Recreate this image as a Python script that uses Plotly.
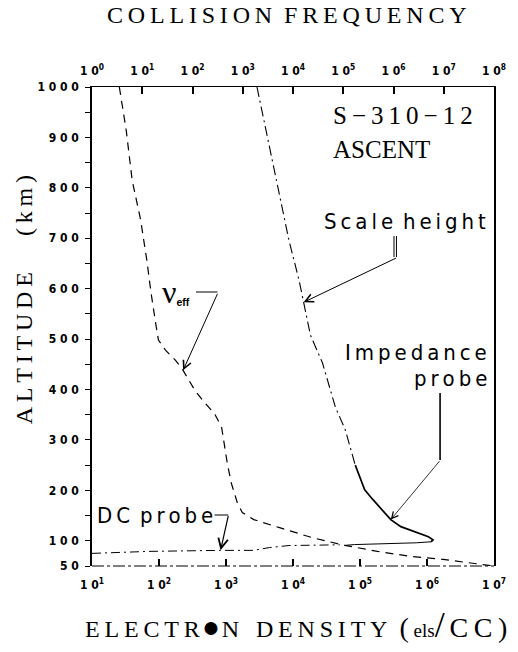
import numpy as np
import plotly.graph_objects as go

# ---------------- data ----------------
# effective collision frequency (top scale, s^-1) versus altitude (km)
nu_eff_alt = [1000, 914, 815, 736, 657, 591, 524, 498, 478, 458, 438, 398, 374,
              352, 325, 294, 255, 215, 176, 156, 142, 126, 106, 91, 79, 69, 63, 50]
nu_eff = [3.5, 4.8, 6.3, 9.3, 12.3, 15, 19, 21, 29, 46, 65, 112, 174,
          275, 380, 427, 490, 590, 776, 980, 1660, 5400, 24500, 1.07e5, 4.8e5,
          2.2e6, 9.8e6, 1.0e8]

# electron density from the scale-height extrapolation (bottom scale, els/cc)
scale_alt = [1000, 815, 696, 617, 508, 453, 366, 320, 250]
scale_ne = [2900, 5600, 8700, 12300, 18200, 27500, 42700, 60300, 85000]

# impedance probe electron density
imp_alt = [250, 201, 182, 162, 142, 128, 116, 108, 102, 98, 96, 94.5, 92.5, 91]
imp_ne = [85000, 117500, 155000, 209000, 288000, 407000, 692000, 1.05e6,
          1.23e6, 1.15e6, 6.9e5, 1.8e5, 8.3e4, 6.0e4]

# DC probe electron density
dc_alt = [75, 79, 81, 81, 86.6, 90.6, 92]
dc_ne = [10, 71, 830, 2570, 4470, 8700, 50000]

density_exp = [1, 2, 3, 4, 5, 6, 7]
freq_exp = [0, 1, 2, 3, 4, 5, 6, 7, 8]
alt_major = [50, 100, 200, 300, 400, 500, 600, 700, 800, 900, 1000]
alt_minor = [150, 250, 350, 450, 550, 650, 750, 850, 950]

# ---------------- layout helpers ----------------
L, R, T, B = 92, 502, 87, 566
W, H = 518, 652


def px(x):
    return (x - L) / (R - L)


def py(y):
    return (B - y) / (B - T)


SERIF = "Liberation Serif, Times New Roman, serif"
SANS = "Liberation Sans Narrow, DejaVu Sans Condensed, Liberation Sans, Arial, sans-serif"
TS = "\u2009"   # thin space
HS = "\u200A"   # hair space
EN = "\u2002"   # en space


def spaced(s, sep=TS):
    return sep.join(list(s))


def exp_label(e):
    return f"1 0<sup>{e}</sup>"


def span(s, size):
    return f"<span style='font-size:{size}px'>{s}</span>"


fig = go.Figure()

fig.add_trace(go.Scatter(
    x=nu_eff, y=nu_eff_alt, xaxis="x2", yaxis="y", mode="lines",
    line=dict(color="black", width=1.2, dash="8px,6px"), hoverinfo="skip"))

fig.add_trace(go.Scatter(
    x=scale_ne, y=scale_alt, mode="lines",
    line=dict(color="black", width=1.1, dash="10px,4px,2px,4px"), hoverinfo="skip"))

fig.add_trace(go.Scatter(
    x=imp_ne[:10], y=imp_alt[:10], mode="lines",
    line=dict(color="black", width=1.7), hoverinfo="skip"))
fig.add_trace(go.Scatter(
    x=imp_ne[8:], y=imp_alt[8:], mode="lines",
    line=dict(color="black", width=1.0), hoverinfo="skip"))

fig.add_trace(go.Scatter(
    x=dc_ne, y=dc_alt, mode="lines",
    line=dict(color="black", width=1.0, dash="9px,4px,2px,4px"), hoverinfo="skip"))

tickfont = dict(family=SANS, size=12, color="black", weight="bold")

fig.update_layout(
    width=W, height=H,
    margin=dict(l=L, r=W - R, t=T, b=H - B, pad=0),
    paper_bgcolor="white", plot_bgcolor="white",
    showlegend=False,
    xaxis=dict(
        type="log", range=[1, 7], showgrid=False, zeroline=False,
        showline=False, ticks="inside", ticklen=7, tickwidth=1.5,
        tickcolor="black", tickmode="array",
        tickvals=[10 ** e for e in density_exp],
        ticktext=[exp_label(e) for e in density_exp],
        tickfont=tickfont, ticklabelstandoff=10,
    ),
    xaxis2=dict(
        type="log", range=[0, 8], overlaying="x", side="top", anchor="y",
        showgrid=False, zeroline=False, showline=True, linecolor="black",
        linewidth=1.2, ticks="inside", ticklen=7, tickwidth=1.5,
        tickcolor="black", tickmode="array",
        tickvals=[10 ** e for e in freq_exp],
        ticktext=[exp_label(e) for e in freq_exp],
        tickfont=tickfont, ticklabelstandoff=6,
    ),
    yaxis=dict(
        range=[50, 1000], showgrid=False, zeroline=False, showline=True,
        linecolor="black", linewidth=1.5, mirror=True,
        ticks="outside", ticklen=5, tickwidth=1.2, tickcolor="black",
        tickmode="array", tickvals=alt_major,
        ticktext=[" ".join(str(v)) for v in alt_major],
        tickfont=tickfont, ticklabelstandoff=4,
        minor=dict(tickmode="array", tickvals=alt_minor, ticks="outside",
                   ticklen=5, tickwidth=1.2, tickcolor="black"),
    ),
)

# bottom frame line
fig.add_shape(type="line", xref="paper", yref="paper", x0=0, x1=1, y0=0, y1=0,
              line=dict(color="black", width=1, dash="12px,3px,3px,3px"))


def text(s, x, y, font, xanchor="center", angle=0):
    return dict(text=s, x=px(x), y=py(y), xref="paper", yref="paper",
                xanchor=xanchor, yanchor="middle", textangle=angle,
                showarrow=False, font=font)


serif24 = dict(family=SERIF, size=24, color="black")
curve_font = dict(family=SANS, size=22, color="black")

ann = []
# axis titles
ann.append(text(spaced("COLLISION") + EN + spaced("FREQUENCY"), 291, 15, serif24))
bottom_title = (spaced("ELECTR") + HS + span("\u25CF", 30) + HS + "N"
                + EN + TS + spaced("DENSITY") + EN
                + span("(", 28) + TS + span("els", 19) + span("/", 36) + TS
                + span("C" + TS + "C" + TS + ")", 28))
ann.append(text(bottom_title, 300, 625, serif24))
ann.append(text(spaced("ALTITUDE") + EN + "\u2003" + spaced("(km)"), 23, 300,
                serif24, angle=-90))

# flight label
ann.append(text("S" + TS + "\u2212" + TS + spaced("310") + TS + "\u2212" + TS
                + spaced("12"), 336, 116, dict(family=SERIF, size=25, color="black"),
                xanchor="left"))
ann.append(text("ASCENT", 336, 149, dict(family=SERIF, size=25, color="black"),
                xanchor="left"))

# Scale height label + pointer
ann.append(text(spaced("Scale") + EN + spaced("height"), 411, 222, curve_font))
sh_alt = 573
sh_x = np.interp(sh_alt, scale_alt[::-1], np.log10(scale_ne)[::-1])
ann.append(dict(x=sh_x, y=sh_alt, xref="x", yref="y", ax=94, ay=-45,
                showarrow=True, arrowhead=5, arrowsize=1.6, arrowwidth=1,
                arrowcolor="black", text=""))
for xx in (400, 402.5):
    fig.add_shape(type="line", xref="paper", yref="paper",
                  x0=px(xx), x1=px(xx), y0=py(236), y1=py(257),
                  line=dict(color="black", width=1))

# Impedance probe label + pointer
ann.append(text(spaced("Impedance"), 497, 352, curve_font, xanchor="right"))
ann.append(text(spaced("probe"), 497, 378, curve_font, xanchor="right"))
fig.add_shape(type="line", xref="paper", yref="paper",
              x0=px(447), x1=px(447), y0=py(393), y1=py(460),
              line=dict(color="black", width=1.6))
ann.append(dict(x=np.log10(imp_ne[4]), y=imp_alt[4], xref="x", yref="y",
                ax=50, ay=-60, showarrow=True, arrowhead=5, arrowsize=1.6,
                arrowwidth=0.8, arrowcolor="black", text=""))

# nu_eff label + pointer
ann.append(text("\u03BD<span style='font-family:Liberation Sans;font-size:15px;"
                "font-weight:bold'><sub>eff</sub></span>", 178, 292,
                dict(family=SERIF, size=32, color="black")))
fig.add_shape(type="line", xref="paper", yref="paper",
              x0=px(198), x1=px(220), y0=py(292), y1=py(292),
              line=dict(color="black", width=1))
ann.append(dict(x=np.log10(nu_eff[10]), y=nu_eff_alt[10], xref="x2", yref="y",
                ax=35, ay=-78, showarrow=True, arrowhead=5, arrowsize=1.6,
                arrowwidth=1, arrowcolor="black", text=""))

# DC probe label + pointer
ann.append(text("D" + TS + "C" + EN + spaced("probe"), 156, 515, curve_font))
fig.add_shape(type="line", xref="paper", yref="paper",
              x0=px(217), x1=px(231), y0=py(515), y1=py(515),
              line=dict(color="black", width=1))
ann.append(dict(x=np.log10(dc_ne[2]), y=dc_alt[2], xref="x", yref="y",
                ax=8, ay=-36, showarrow=True, arrowhead=5, arrowsize=1.6,
                arrowwidth=1.2, arrowcolor="black", text=""))

fig.update_layout(annotations=ann)
fig.write_html("out.html")
